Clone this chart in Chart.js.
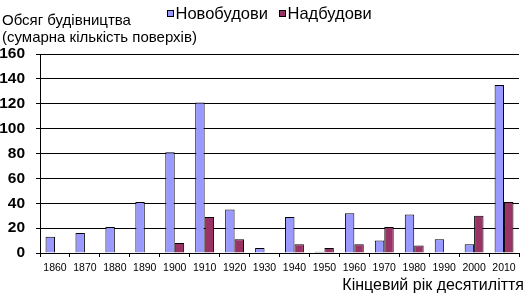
<!DOCTYPE html>
<html>
<head>
<meta charset="utf-8">
<script src="https://cdn.jsdelivr.net/npm/chart.js@4"></script>
<style>
html,body{margin:0;padding:0;background:#fff;}
#wrap{width:525px;height:296px;position:relative;}
</style>
</head>
<body>
<div id="wrap"><canvas id="c" width="525" height="296"></canvas></div>
<script>
const years = ['1860','1870','1880','1890','1900','1910','1920','1930','1940','1950','1960','1970','1980','1990','2000','2010'];
const newBuildings = [13,16,21,41,81,121,35,4,29,1,32,10,31,11,7,135];
const addedFloors = [null,null,null,null,8,29,11,null,7,4,7,21,6,null,30,41];
const seriesNames = ['Новобудови','Надбудови'];
const yTitleLines = ['Обсяг будівництва','(сумарна кількість поверхів)'];
const xTitle = 'Кінцевий рік десятиліття';
const yMin = 0, yMax = 160, yStep = 20;

const FONT = '"Liberation Sans", Arial, sans-serif';

const textPlugin = {
  id: 'texts',
  afterDraw(chart) {
    const ctx = chart.ctx;
    ctx.save();
    ctx.fillStyle = '#000';
    ctx.textBaseline = 'alphabetic';
    ctx.textAlign = 'left';
    ctx.font = '15px ' + FONT;
    ctx.fillText(yTitleLines[0], 2, 25);
    ctx.fillText(yTitleLines[1], 2, 42);
    ctx.font = '16px ' + FONT;
    ctx.textAlign = 'right';
    ctx.fillText(xTitle, 524, 290);
    // legend
    ctx.font = '16.5px ' + FONT;
    ctx.textAlign = 'left';
    ctx.textBaseline = 'middle';
    const starts = [167, 279];
    chart.data.datasets.forEach((ds, i) => {
      const x = starts[i];
      ctx.fillStyle = ds.backgroundColor;
      ctx.fillRect(x + 0.5, 10.5, 6, 6);
      ctx.strokeStyle = '#000';
      ctx.lineWidth = 1;
      ctx.strokeRect(x + 0.5, 10.5, 6, 6);
      ctx.fillStyle = '#000';
      ctx.fillText(ds.label, x + 8.5, 14);
    });
    ctx.restore();
  }
};

new Chart(document.getElementById('c'), {
  type: 'bar',
  data: {
    labels: years,
    datasets: [
      { label: seriesNames[0], data: newBuildings, backgroundColor: '#9999FF', borderColor: '#000', borderWidth: 1 },
      { label: seriesNames[1], data: addedFloors, backgroundColor: '#993366', borderColor: '#000', borderWidth: 1 }
    ]
  },
  options: {
    responsive: false,
    animation: false,
    devicePixelRatio: 1,
    layout: { padding: { top: 54, left: 0, right: 6, bottom: 0 } },
    plugins: { legend: { display: false }, tooltip: { enabled: false } },
    datasets: { bar: { categoryPercentage: 0.63, barPercentage: 1 } },
    scales: {
      x: {
        afterFit(s) { s.height = 43; },
        grid: { offset: true, drawOnChartArea: false, drawTicks: true, tickLength: 4, color: '#000' },
        border: { color: '#000' },
        ticks: { color: '#000', font: { family: FONT, size: 10.5 }, maxRotation: 0, autoSkip: false, padding: 5 }
      },
      y: {
        min: yMin, max: yMax,
        afterFit(s) { s.width = 40; },
        grid: { color: '#000', drawTicks: true, tickLength: 4 },
        border: { color: '#000' },
        ticks: { stepSize: yStep, color: '#000', font: { family: FONT, size: 15.5, weight: 'bold' }, padding: 11 }
      }
    }
  },
  plugins: [textPlugin]
});
</script>
</body>
</html>
